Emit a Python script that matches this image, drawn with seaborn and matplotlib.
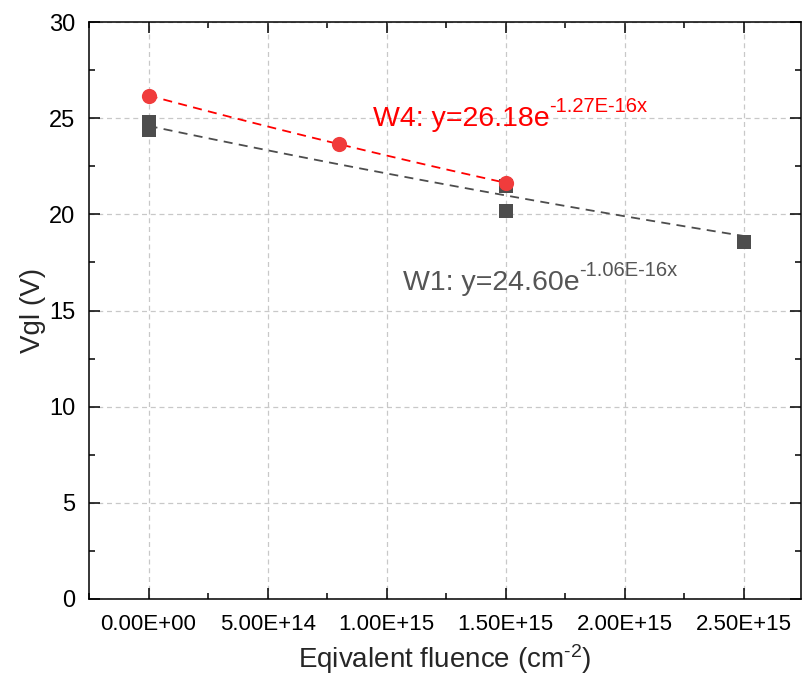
import numpy as np
import pandas as pd
import matplotlib
matplotlib.use('Agg')
import matplotlib.pyplot as plt
import seaborn as sns
from matplotlib.ticker import MultipleLocator, FuncFormatter

# data
w1_fluence = [0.0, 0.0, 1.5e15, 1.5e15, 2.5e15]
w1_vgl = [24.8, 24.4, 21.45, 20.15, 18.55]
w4_fluence = [0.0, 8.0e14, 1.5e15]
w4_vgl = [26.15, 23.68, 21.63]

# exponential fit coefficients printed on the chart
w1_a, w1_b = 24.60, 1.06e-16
w4_a, w4_b = 26.18, 1.27e-16

sns.set_theme(style='ticks')
plt.rcParams['font.family'] = ['Liberation Sans', 'DejaVu Sans']
plt.rcParams['mathtext.fontset'] = 'custom'
plt.rcParams['mathtext.rm'] = 'Liberation Sans'
plt.rcParams['mathtext.it'] = 'Liberation Sans'
plt.rcParams['mathtext.default'] = 'regular'

fig = plt.figure(figsize=(8.02, 6.84), dpi=100)
ax = fig.add_axes([0.111, 0.1243, 0.8878, 0.8435])

red = '#f03c3c'
gray = '#4d4d4d'

# fit curves
xf1 = np.linspace(0, 2.5e15, 60)
xf4 = np.linspace(0, 1.5e15, 60)
fit1 = pd.DataFrame({'x': xf1, 'y': w1_a * np.exp(-w1_b * xf1)})
fit4 = pd.DataFrame({'x': xf4, 'y': w4_a * np.exp(-w4_b * xf4)})
sns.lineplot(data=fit1, x='x', y='y', ax=ax, color=gray, lw=1.3,
             linestyle=(0, (5, 3.5)), zorder=3)
sns.lineplot(data=fit4, x='x', y='y', ax=ax, color='#ff0000', lw=1.3,
             linestyle=(0, (5, 3.5)), zorder=3)

# data points
sns.scatterplot(x=w1_fluence, y=w1_vgl, ax=ax, marker='s', s=100,
                color=gray, edgecolor=gray, linewidth=0, zorder=4)
sns.scatterplot(x=w4_fluence, y=w4_vgl, ax=ax, marker='o', s=120,
                color=red, edgecolor=red, linewidth=0, zorder=5)


def fit_label(x, y, main, sup, color):
    t = ax.text(x, y, main, color=color, fontsize=20.5, va='baseline', ha='left')
    ax.annotate(sup, xy=(1.0, 0.62), xycoords=t, color=color, fontsize=14.5,
                va='bottom', ha='left')


fit_label(9.41e14, 24.57, 'W4: y=26.18e', '-1.27E-16x', '#ff0000')
fit_label(1.067e15, 16.07, 'W1: y=24.60e', '-1.06E-16x', '#555555')

ax.set_xlim(-2.5e14, 2.74e15)
ax.set_ylim(0, 30)
ax.xaxis.set_major_locator(MultipleLocator(5e14))
ax.xaxis.set_minor_locator(MultipleLocator(2.5e14))
ax.yaxis.set_major_locator(MultipleLocator(5))
ax.yaxis.set_minor_locator(MultipleLocator(2.5))
ax.xaxis.set_major_formatter(FuncFormatter(lambda v, p: '{:.2E}'.format(v)))
ax.xaxis.get_offset_text().set_visible(False)

ax.grid(True, which='major', color='#c8c8c8', linestyle=(0, (4, 3)), lw=0.9)
ax.set_axisbelow(True)

ax.tick_params(which='both', direction='in', top=True, right=True,
               width=1.1, color='black', labelcolor='black')
ax.tick_params(which='major', length=8)
ax.tick_params(which='minor', length=4)
ax.tick_params(axis='x', labelsize=16, pad=11)
ax.tick_params(axis='y', labelsize=17, pad=10)
for s in ax.spines.values():
    s.set_linewidth(1.1)
    s.set_color('black')

ax.set_xlabel('Eqivalent fluence (cm$^{\u20102}$)', fontsize=20, labelpad=5)
ax.set_ylabel('Vgl (V)', fontsize=20, labelpad=2)

fig.savefig('out.png', dpi=100)
